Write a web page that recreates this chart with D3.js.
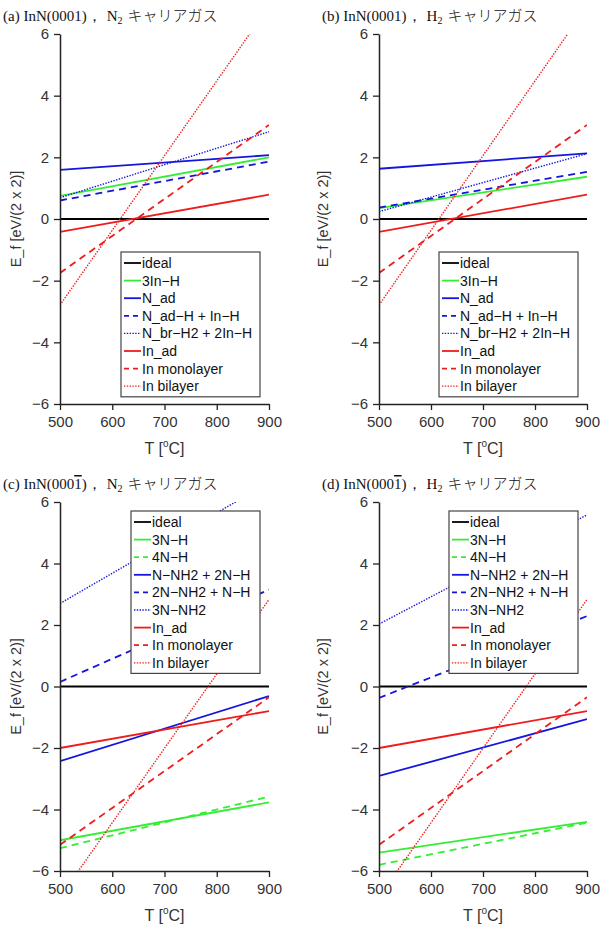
<!DOCTYPE html>
<html>
<head>
<meta charset="utf-8">
<script src="https://cdn.jsdelivr.net/npm/d3@7"></script>
<style>
  body { margin: 0; background: #fff; }
</style>
</head>
<body>
<div id="chart"></div>
<script>
// temperatures at which each straight line is read
const temps = [500, 900];
const xTicks = [500, 600, 700, 800, 900];
const yTicks = [-6, -4, -2, 0, 2, 4, 6];

// (a) InN(0001), N2
const namesA = ["ideal", "3In−H", "N_ad", "N_ad−H + In−H", "N_br−H2 + 2In−H", "In_ad", "In monolayer", "In bilayer"];
const valuesA = [[0, 0], [0.75, 2.0], [1.59, 2.07], [0.6, 1.86], [0.69, 2.83], [-0.42, 0.79], [-1.75, 3.05], [-2.79, 6.9]];
// (b) InN(0001), H2
const namesB = namesA;
const valuesB = [[0, 0], [0.35, 1.37], [1.63, 2.13], [0.37, 1.53], [0.24, 2.12], [-0.42, 0.79], [-1.75, 3.05], [-2.79, 6.9]];
// (c) InN(000-1), N2
const namesC = ["ideal", "3N−H", "4N−H", "N−NH2 + 2N−H", "2N−NH2 + N−H", "3N−NH2", "In_ad", "In monolayer", "In bilayer"];
const valuesC = [[0, 0], [-5.0, -3.77], [-5.26, -3.58], [-2.43, -0.31], [0.15, 3.15], [2.7, 6.63], [-2.0, -0.8], [-5.15, -0.35], [-6.85, 2.83]];
// (d) InN(000-1), H2
const namesD = namesC;
const valuesD = [[0, 0], [-5.4, -4.4], [-5.8, -4.43], [-2.91, -1.06], [-0.37, 2.29], [2.03, 5.58], [-2.0, -0.8], [-5.15, -0.35], [-6.85, 2.83]];

const GREEN = "#33ee33", BLUE = "#1515dd", RED = "#ee1c1c";
const SANS = "Liberation Sans, Arial, sans-serif";
const styleOf = {
  "ideal": [ "#000", null ],
  "3In−H": [GREEN, null], "3N−H": [GREEN, null], "4N−H": [GREEN, "7,5"],
  "N_ad": [BLUE, null], "N−NH2 + 2N−H": [BLUE, null],
  "N_ad−H + In−H": [BLUE, "7,5"], "2N−NH2 + N−H": [BLUE, "7,5"],
  "N_br−H2 + 2In−H": [BLUE, "1.4,1.4"], "3N−NH2": [BLUE, "1.4,1.4"],
  "In_ad": [RED, null], "In monolayer": [RED, "7,5"], "In bilayer": [RED, "1.4,1.4"]
};

const svg = d3.select("#chart").append("svg")
  .attr("width", 605).attr("height", 927);

function drawPanel(id, names, values, box, title, legendBox, ylabelX) {
  const g = svg.append("g");
  const x = d3.scaleLinear().domain([500, 900]).range([box.left, box.right]);
  const y = d3.scaleLinear().domain([-6, 6]).range([box.bottom, box.top]);

  g.append("clipPath").attr("id", "clip" + id)
    .append("rect")
    .attr("x", box.left).attr("y", box.top)
    .attr("width", box.right - box.left).attr("height", box.bottom - box.top);

  const line = d3.line().x((d, i) => x(temps[i])).y(d => y(d));
  const plot = g.append("g").attr("clip-path", `url(#clip${id})`);
  names.forEach((n, i) => {
    const st = styleOf[n];
    plot.append("path")
      .attr("d", line(values[i]))
      .attr("fill", "none")
      .attr("stroke", st[0])
      .attr("stroke-width", st[1] === "1.4,1.4" ? 1.4 : 1.8)
      .attr("stroke-dasharray", st[1]);
  });

  // axes
  const ax = g.append("g").attr("transform", `translate(0,${box.bottom})`)
    .call(d3.axisBottom(x).tickValues(xTicks).tickSize(6).tickPadding(6).tickSizeOuter(0));
  const ay = g.append("g").attr("transform", `translate(${box.left},0)`)
    .call(d3.axisLeft(y).tickValues(yTicks).tickSize(6).tickPadding(5).tickSizeOuter(0));
  [ax, ay].forEach(a => {
    a.attr("font-family", SANS).attr("font-size", 15);
    a.select(".domain").attr("stroke", "#222").attr("stroke-width", 1.5);
    a.selectAll(".tick line").attr("stroke", "#222").attr("stroke-width", 1.3);
    a.selectAll(".tick text").attr("fill", "#333");
  });

  // x label
  const xl = g.append("text")
    .attr("x", (box.left + box.right) / 2).attr("y", box.bottom + 50)
    .attr("text-anchor", "middle").attr("font-size", 16).attr("fill", "#333")
    .attr("font-family", SANS);
  xl.append("tspan").text("T [");
  xl.append("tspan").attr("font-size", 10).attr("dy", -7).text("o");
  xl.append("tspan").attr("dy", 7).text("C]");

  // y label
  g.append("text")
    .attr("transform", `translate(${ylabelX},${(box.top + box.bottom) / 2}) rotate(-90)`)
    .attr("text-anchor", "middle").attr("font-size", 14.5).attr("fill", "#333")
    .attr("font-family", SANS)
    .text("E_f [eV/(2 x 2)]");

  // title
  const t = g.append("text")
    .attr("x", box.left - 57).attr("y", box.top - 13)
    .attr("font-size", 15).attr("fill", "#111")
    .attr("font-family", "Liberation Serif, Times New Roman, serif");
  t.append("tspan").text(title[0]);
  if (title[1]) t.append("tspan").attr("text-decoration", "overline").text(title[1]);
  t.append("tspan").text(title[2]);
  t.append("tspan").attr("dx", 5).text(title[3]);
  t.append("tspan").attr("font-size", 10).attr("dy", 3).text("2");
  t.append("tspan").attr("dy", -3).attr("dx", 5)
    .attr("font-family", "Noto Sans CJK JP, sans-serif").attr("font-weight", 300)
    .text("キャリアガス");

  // legend
  const rowH = 17.6;
  const lg = g.append("g");
  lg.append("rect")
    .attr("x", legendBox.left).attr("y", legendBox.top)
    .attr("width", legendBox.right - legendBox.left)
    .attr("height", names.length * rowH + 4)
    .attr("fill", "#fff").attr("stroke", "#444").attr("stroke-width", 1.2);
  names.forEach((n, i) => {
    const st = styleOf[n];
    const cy = legendBox.top + 11 + i * rowH;
    lg.append("line")
      .attr("x1", legendBox.left + 3).attr("x2", legendBox.left + 20)
      .attr("y1", cy).attr("y2", cy)
      .attr("stroke", st[0])
      .attr("stroke-width", st[1] === "1.4,1.4" ? 1.3 : 1.8)
      .attr("stroke-dasharray", st[1] === "7,5" ? "5,4" : st[1]);
    lg.append("text")
      .attr("x", legendBox.left + 21).attr("y", cy + 5)
      .attr("font-size", 14).attr("fill", "#111")
      .attr("font-family", SANS)
      .text(n);
  });
}

drawPanel("a", namesA, valuesA, {left: 60, right: 269, top: 34, bottom: 404},
  ["(a) InN(0001)", null, "，", "N"], {left: 121, right: 260, top: 252}, 21);
drawPanel("b", namesB, valuesB, {left: 379, right: 587, top: 34, bottom: 404},
  ["(b) InN(0001)", null, "，", "H"], {left: 439, right: 578, top: 252}, 328);
drawPanel("c", namesC, valuesC, {left: 60, right: 269, top: 502, bottom: 871},
  ["(c) InN(000", "1", ")，", "N"], {left: 131, right: 260, top: 511}, 21);
drawPanel("d", namesD, valuesD, {left: 379, right: 587, top: 502, bottom: 871},
  ["(d) InN(000", "1", ")，", "H"], {left: 449, right: 578, top: 511}, 328);
</script>
</body>
</html>
